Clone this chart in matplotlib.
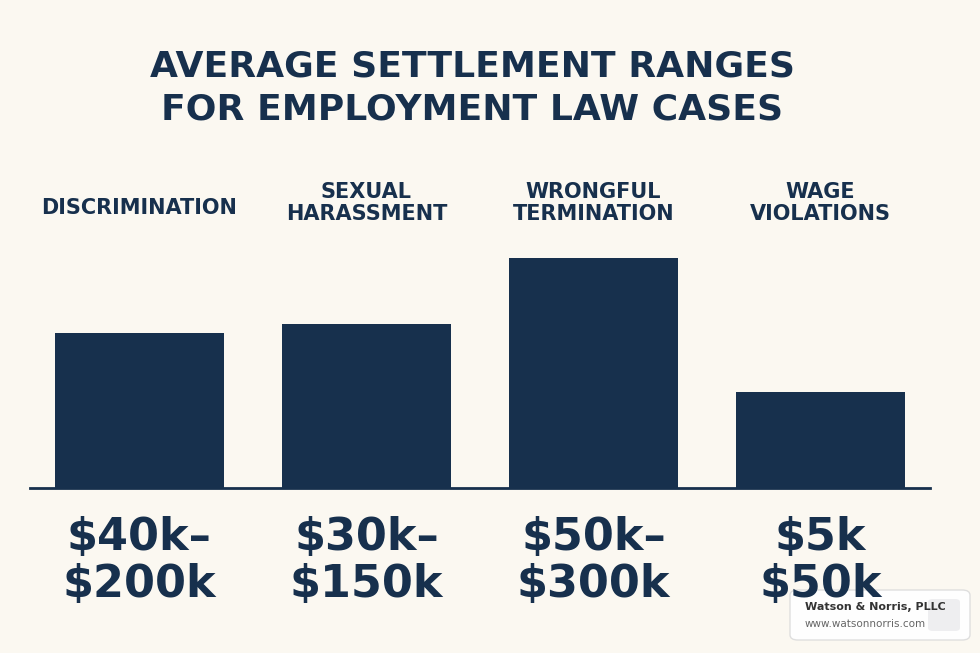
import matplotlib
matplotlib.use("Agg")
import matplotlib.pyplot as plt
from matplotlib.patches import FancyBboxPatch

categories = ["DISCRIMINATION", "SEXUAL\nHARASSMENT", "WRONGFUL\nTERMINATION", "WAGE\nVIOLATIONS"]
values = [155, 164, 230, 96]
ranges = ["$40k–\n$200k", "$30k–\n$150k", "$50k–\n$300k", "$5k\n$50k"]

BG = "#FBF8F1"
NAVY = "#17304D"
W, H = 980, 653
fig = plt.figure(figsize=(W/100, H/100), dpi=100, facecolor=BG)
ax = fig.add_axes([30/W, 165/H, 900/W, 230/H])
ax.set_facecolor(BG)
x = list(range(len(categories)))
ax.bar(x, values, width=0.745, color=NAVY)
ax.set_xlim(-0.482, 3.483)
ax.set_ylim(0, 230)
for s in ["top", "right", "left"]:
    ax.spines[s].set_visible(False)
ax.spines["bottom"].set_color(NAVY)
ax.spines["bottom"].set_linewidth(2)
ax.set_xticks([]); ax.set_yticks([])

font = "DejaVu Sans"
fig.text(472/W, 1-88/H, "AVERAGE SETTLEMENT RANGES\nFOR EMPLOYMENT LAW CASES", ha="center", va="center",
         fontsize=26, fontweight="bold", color=NAVY, family=font, linespacing=1.3)
cat_y = [208, 203, 203, 203]
for i, (c, r) in enumerate(zip(categories, ranges)):
    xd = ax.transData.transform((i, 0))[0] / W
    fig.text(xd, 1-cat_y[i]/H, c, ha="center", va="center", fontsize=15, fontweight="bold",
             color=NAVY, family=font, linespacing=1.1)
    fig.text(xd, 1-561/H, r, ha="center", va="center", fontsize=32, fontweight="bold",
             color=NAVY, family=font, linespacing=1.1)

box = FancyBboxPatch((790/W, 13/H), 180/W, 50/H, boxstyle="round,pad=0,rounding_size=0.008",
                     transform=fig.transFigure, facecolor="white", edgecolor="#DDDDDD", alpha=0.95)
fig.patches.append(box)
fig.text(805/W, 1-607/H, "Watson & Norris, PLLC", fontsize=8, fontweight="bold", color="#333333", va="center")
fig.text(805/W, 1-624/H, "www.watsonnorris.com", fontsize=7.5, color="#666666", va="center")
sq = FancyBboxPatch((928/W, 22/H), 32/W, 32/H, boxstyle="round,pad=0,rounding_size=0.005",
                    transform=fig.transFigure, facecolor="#EEEEF0", edgecolor="none")
fig.patches.append(sq)
fig.savefig("out.png", dpi=100, facecolor=BG)
